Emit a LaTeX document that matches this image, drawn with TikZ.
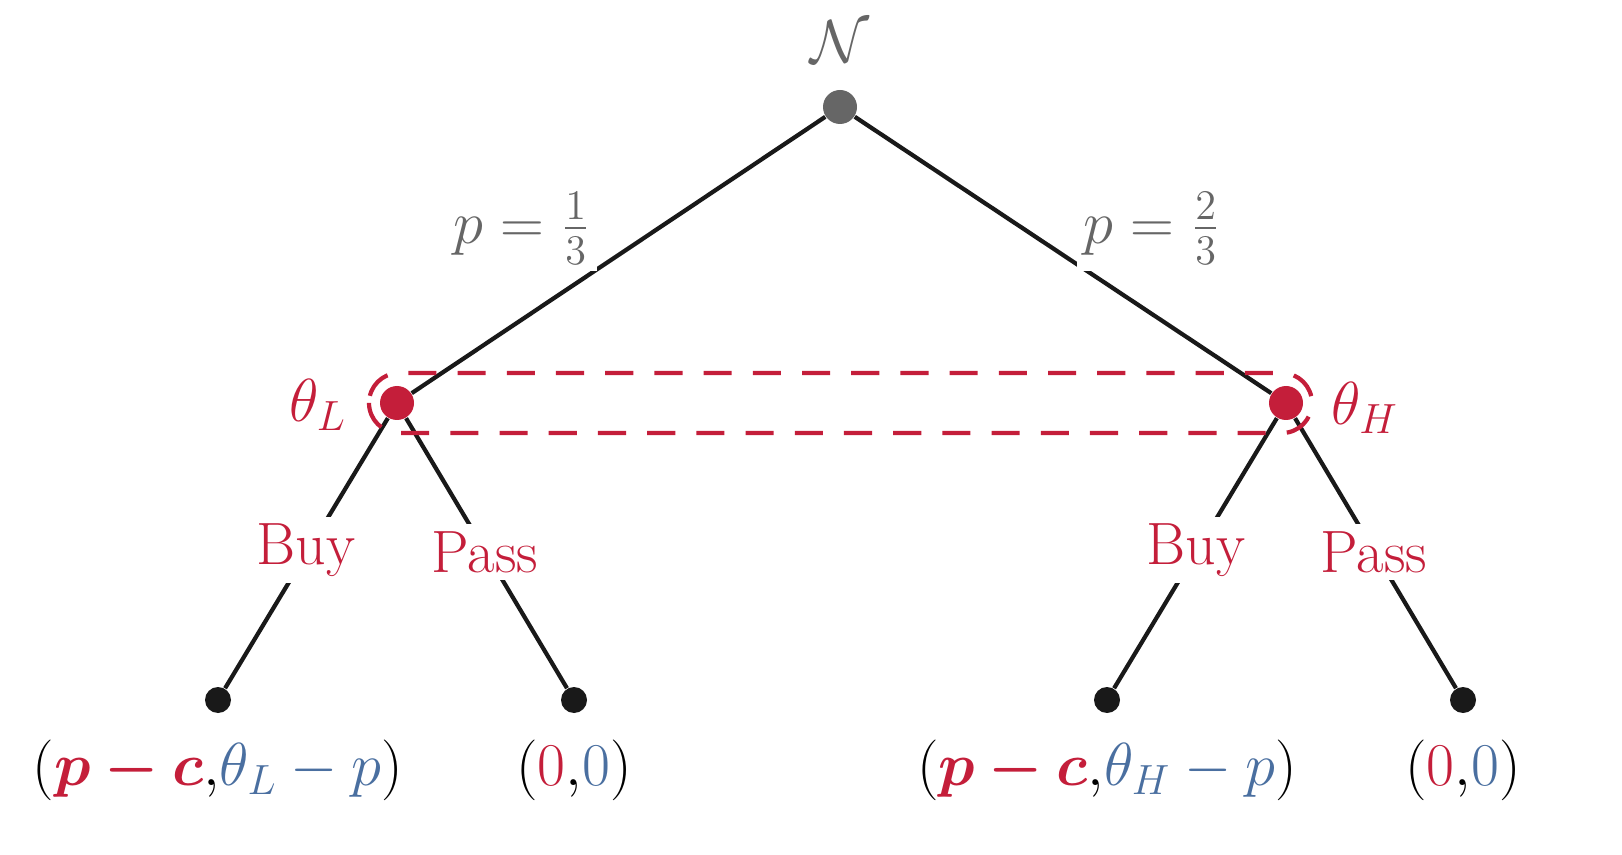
\documentclass[tikz,border=0pt]{standalone}
\usepackage{amsmath, amssymb}
\usepackage{bm}
\usepackage{xcolor}
\definecolor{custom_red}{HTML}{C41E3A}
\definecolor{custom_blue}{HTML}{4A6FA0}
\definecolor{custom_gray}{HTML}{666666}
\begin{document}
\begin{tikzpicture}[every node/.style={font=\fontsize{17}{20}\selectfont},
  edge/.style={line width=1.2pt, black!90},
  lab/.style={fill=white, inner sep=2pt},
  leaf/.style={circle, fill=black!90, minimum size=0.26cm, inner sep=0pt}]
  \useasboundingbox (0,0) rectangle (16.22,8.54);

  \node[circle, fill=custom_gray, minimum size=0.34cm, inner sep=0pt] (root) at (8.40,7.47) {};
  \node[text=custom_gray] at (8.40,8.12) {$\mathcal{N}$};
  \node[circle, fill=custom_red, minimum size=0.34cm, inner sep=0pt] (tL) at (3.97,4.51) {};
  \node[circle, fill=custom_red, minimum size=0.34cm, inner sep=0pt] (tH) at (12.86,4.51) {};
  \node[text=custom_red] at (3.18,4.49) {$\theta_L$};
  \node[text=custom_red] at (13.65,4.46) {$\theta_H$};

  \node[leaf] (a) at (2.18,1.54) {};
  \node[leaf] (b) at (5.74,1.54) {};
  \node[leaf] (c) at (11.07,1.54) {};
  \node[leaf] (d) at (14.63,1.54) {};

  \draw[edge] (root) -- (tL);
  \draw[edge] (root) -- (tH);
  \draw[edge] (tL) -- (a);
  \draw[edge] (tL) -- (b);
  \draw[edge] (tH) -- (c);
  \draw[edge] (tH) -- (d);

  \draw[custom_red, line width=1.2pt, dash pattern=on 8pt off 6pt, rounded corners=0.3cm]
    (3.69,4.81) rectangle (13.12,4.21);

  \node[lab, text=custom_gray] at (5.22,6.26) {$p=\frac{1}{3}$};
  \node[lab, text=custom_gray] at (11.52,6.26) {$p=\frac{2}{3}$};
  \node[lab, text=custom_red] at (3.06,3.04) {Buy};
  \node[lab, text=custom_red] at (4.85,3.02) {Pass};
  \node[lab, text=custom_red] at (11.96,3.04) {Buy};
  \node[lab, text=custom_red] at (13.74,3.02) {Pass};

  \node at (2.18,0.84) {$(\textcolor{custom_red}{\bm{p-c}}{,}\textcolor{custom_blue}{\theta_L-p})$};
  \node at (5.74,0.84) {$(\textcolor{custom_red}{0}{,}\textcolor{custom_blue}{0})$};
  \node at (11.07,0.84) {$(\textcolor{custom_red}{\bm{p-c}}{,}\textcolor{custom_blue}{\theta_H-p})$};
  \node at (14.63,0.84) {$(\textcolor{custom_red}{0}{,}\textcolor{custom_blue}{0})$};
\end{tikzpicture}
\end{document}
